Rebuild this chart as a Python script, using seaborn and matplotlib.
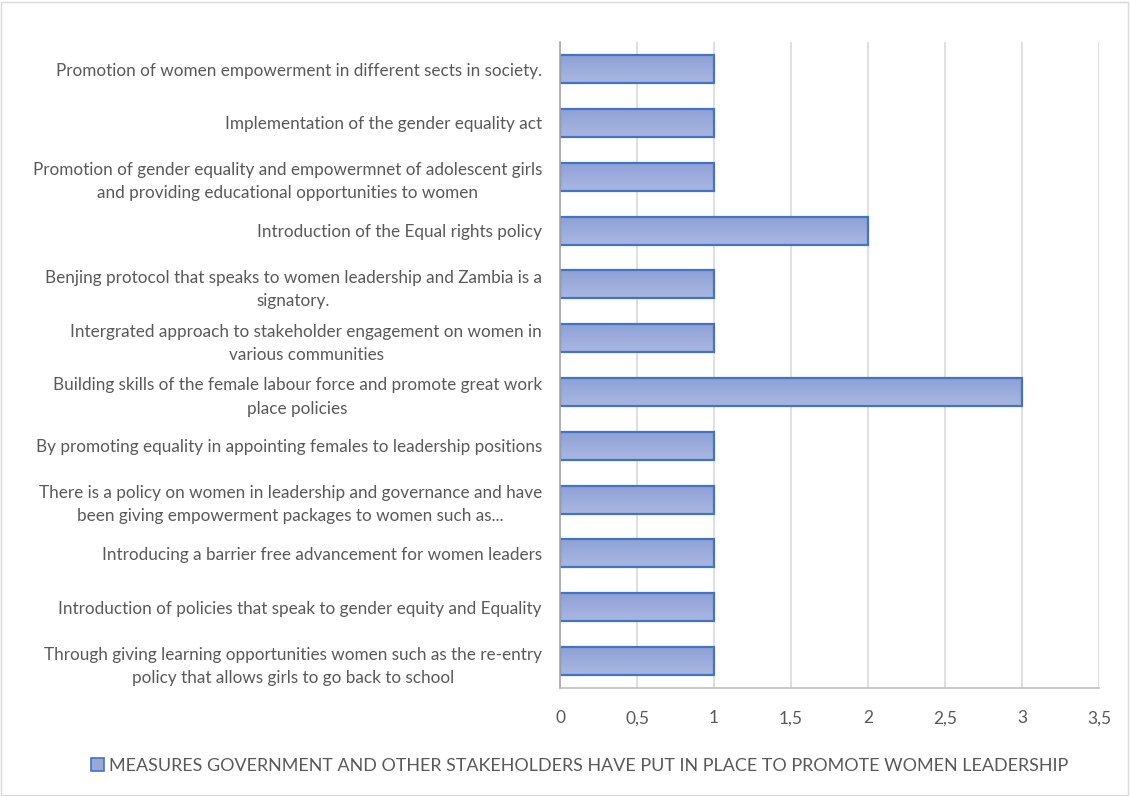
import matplotlib
matplotlib.use("Agg")
import matplotlib.pyplot as plt
import seaborn as sns
import pandas as pd
import numpy as np
from matplotlib.patches import Patch, Rectangle
from matplotlib.colors import LinearSegmentedColormap

categories = [
    "Promotion of women empowerment in different sects in society.",
    "Implementation of the gender equality act",
    "Promotion of gender equality and empowermnet of adolescent girls\nand providing educational opportunities to women",
    "Introduction of the Equal rights policy",
    "Benjing protocol that speaks to women leadership and Zambia is a\nsignatory.",
    "Intergrated approach to stakeholder engagement on women in\nvarious communities",
    "Building skills of the female labour force and promote great work\nplace policies",
    "By promoting equality in appointing females to leadership positions",
    "There is a policy on women in leadership and governance and have\nbeen giving empowerment packages to women such as...",
    "Introducing a barrier free advancement for women leaders",
    "Introduction of policies that speak to gender equity and Equality",
    "Through giving learning opportunities women such as the re-entry\npolicy that allows girls to go back to school",
]
values = [1, 1, 1, 2, 1, 1, 3, 1, 1, 1, 1, 1]
xticks = [0, 0.5, 1, 1.5, 2, 2.5, 3, 3.5]
xticklabels = ["0", "0,5", "1", "1,5", "2", "2,5", "3", "3,5"]
legend_label = "MEASURES GOVERNMENT AND OTHER STAKEHOLDERS HAVE PUT IN PLACE TO PROMOTE WOMEN LEADERSHIP"

sns.set_theme(style="white")
plt.rcParams["font.family"] = ["Lato", "DejaVu Sans"]

text_color = "#595959"
fill = "#98A8D9"
edge = "#4472C4"
grad = LinearSegmentedColormap.from_list("g", ["#8FA1D7", "#A9B7E1"])

df = pd.DataFrame({"category": categories, "value": values})

fig = plt.figure(figsize=(11.3, 7.96), dpi=100)
ax = fig.add_axes([0.4956, 0.1357, 0.9726 - 0.4956, 0.947 - 0.1357])

sns.barplot(data=df, y="category", x="value", orient="h", color=fill,
            edgecolor=edge, linewidth=1.6, width=0.52, saturation=1, ax=ax)

# vertical gradient inside each bar
gimg = np.linspace(0, 1, 64).reshape(-1, 1)
for p in list(ax.patches):
    x0, y0 = p.get_x(), p.get_y()
    w, h = p.get_width(), p.get_height()
    im = ax.imshow(gimg, cmap=grad, aspect="auto", origin="upper",
                   extent=(x0, x0 + w, y0 + h, y0), zorder=p.get_zorder() - 0.01,
                   interpolation="bilinear")
    im.set_clip_path(p)
    p.set_facecolor("none")
    p.set_zorder(p.get_zorder() + 0.1)

ax.set_xlim(0, 3.5)
ax.set_ylim(11.5, -0.5)
ax.set_xticks(xticks)
ax.set_xticklabels(xticklabels, color=text_color, fontsize=12.5)
ax.tick_params(axis="x", length=0, pad=16)
ax.tick_params(axis="y", length=0, pad=13)
for lab in ax.get_yticklabels():
    lab.set_color(text_color)
    lab.set_fontsize(12.3)
    lab.set_horizontalalignment("right")
    lab.set_multialignment("center")
    lab.set_linespacing(1.55)
ax.set_xlabel("")
ax.set_ylabel("")
ax.xaxis.grid(True, color="#D9D9D9", linewidth=1.2)
ax.set_axisbelow(True)
for s in ["top", "right"]:
    ax.spines[s].set_visible(False)
ax.spines["left"].set_color("#A6A6A6")
ax.spines["bottom"].set_color("#BFBFBF")
ax.spines["left"].set_linewidth(1.2)
ax.spines["bottom"].set_linewidth(1.2)

handle = Patch(facecolor=fill, edgecolor=edge, linewidth=1.2)
fig.legend([handle], [legend_label], loc="center", bbox_to_anchor=(0.513, 1 - 766 / 796),
           frameon=False, fontsize=12.9, labelcolor=text_color,
           handlelength=0.75, handleheight=0.75, handletextpad=0.3)

fig.patches.append(Rectangle((0.001, 0.001), 0.997, 0.997, transform=fig.transFigure,
                             fill=False, edgecolor="#D9D9D9", linewidth=1))

fig.savefig("out.png", dpi=100)
